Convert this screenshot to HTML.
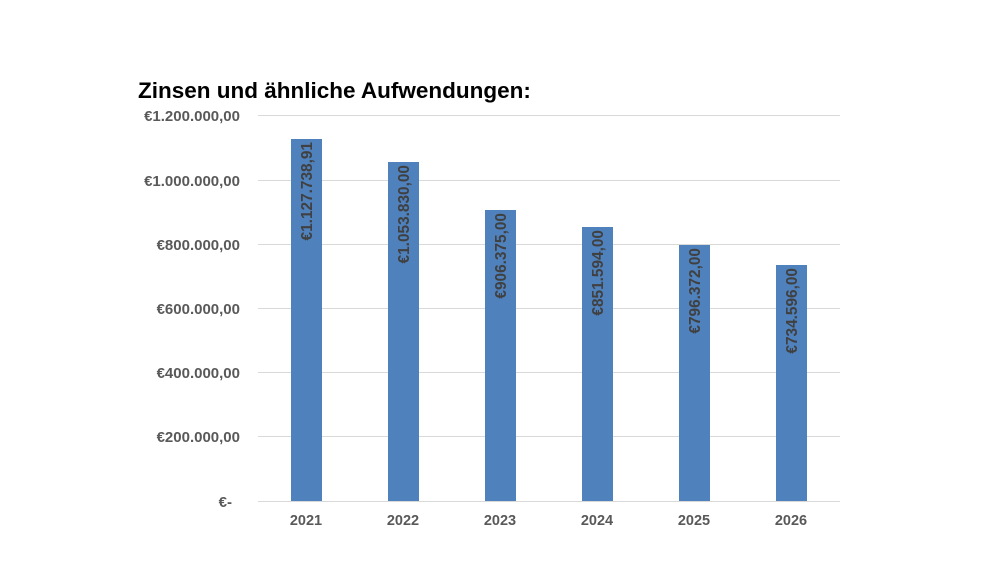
<!DOCTYPE html>
<html><head><meta charset="utf-8"><style>
html,body{margin:0;padding:0;background:#fff;}
svg{display:block;font-family:"Liberation Sans",Arial,sans-serif;}
</style></head><body>
<svg width="1002" height="564" xmlns="http://www.w3.org/2000/svg">
<rect width="1002" height="564" fill="#fff"/>
<text x="138" y="98" font-size="22.5" font-weight="bold" fill="#000">Zinsen und ähnliche Aufwendungen:</text>
<g stroke="#d9d9d9" stroke-width="1">
<line x1="258" x2="840" y1="115.5" y2="115.5"/>
<line x1="258" x2="840" y1="180.5" y2="180.5"/>
<line x1="258" x2="840" y1="244.5" y2="244.5"/>
<line x1="258" x2="840" y1="308.5" y2="308.5"/>
<line x1="258" x2="840" y1="372.5" y2="372.5"/>
<line x1="258" x2="840" y1="436.5" y2="436.5"/>
<line x1="258" x2="840" y1="501.5" y2="501.5"/>
</g>
<g font-size="15" font-weight="bold" fill="#595959" text-anchor="end">
<text x="240" y="121">€1.200.000,00</text>
<text x="240" y="186">€1.000.000,00</text>
<text x="240" y="250">€800.000,00</text>
<text x="240" y="314">€600.000,00</text>
<text x="240" y="378">€400.000,00</text>
<text x="240" y="442">€200.000,00</text>
<text x="232" y="507">€-</text>
</g>
<g fill="#4f81bd">
<rect x="291" y="139" width="31" height="362"/>
<rect x="388" y="162" width="31" height="339"/>
<rect x="485" y="210" width="31" height="291"/>
<rect x="582" y="227" width="31" height="274"/>
<rect x="679" y="245" width="31" height="256"/>
<rect x="776" y="265" width="31" height="236"/>
</g>
<g font-size="15.4" font-weight="bold" fill="#404040" text-anchor="end">
<text transform="translate(312,142) rotate(-90)">€1.127.738,91</text>
<text transform="translate(409,165) rotate(-90)">€1.053.830,00</text>
<text transform="translate(506,213) rotate(-90)">€906.375,00</text>
<text transform="translate(603,230) rotate(-90)">€851.594,00</text>
<text transform="translate(700,248) rotate(-90)">€796.372,00</text>
<text transform="translate(797,268) rotate(-90)">€734.596,00</text>
</g>
<g font-size="14.5" font-weight="bold" fill="#595959" text-anchor="middle">
<text x="306" y="525">2021</text>
<text x="403" y="525">2022</text>
<text x="500" y="525">2023</text>
<text x="597" y="525">2024</text>
<text x="694" y="525">2025</text>
<text x="791" y="525">2026</text>
</g>
</svg>
</body></html>
